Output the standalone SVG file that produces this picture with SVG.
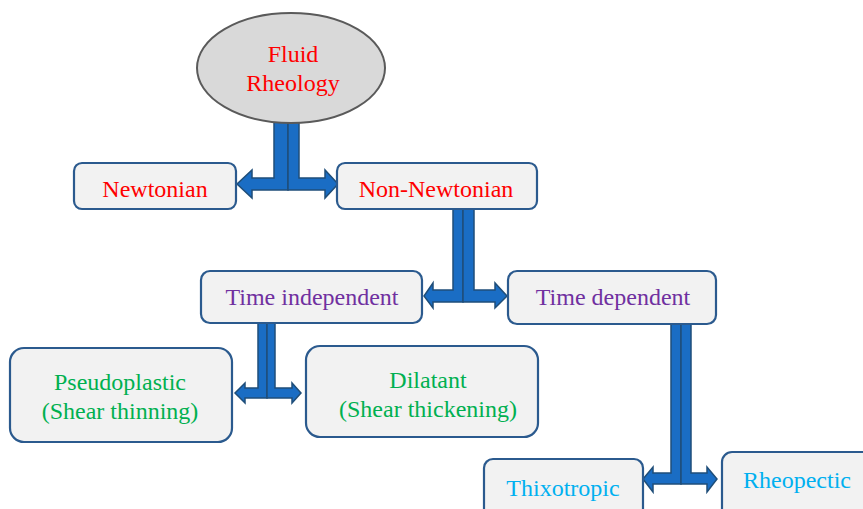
<svg xmlns="http://www.w3.org/2000/svg" width="863" height="509" viewBox="0 0 863 509">
<style>
.box{fill:#F2F2F2;stroke:#2B5A8E;stroke-width:2.2}
.arr{fill:#1A6DC4;stroke:#1F4E79;stroke-width:1.5;stroke-linejoin:miter}
.t{font-family:'Liberation Serif','DejaVu Serif',serif;font-size:24px;text-anchor:middle}
.red{fill:#FF0000}.pur{fill:#7030A0}.grn{fill:#00B050}.cyn{fill:#00B0F0}
</style>
<rect width="863" height="509" fill="#FFFFFF"/>
<g id="connectors">
<path class="arr" d="M274,122 L288,122 L288,190 L252,190 L252,198 L237,184 L252,170 L252,178 L274,178 Z"/>
<path class="arr" d="M288,122 L299,122 L299,178 L325,178 L325,170 L338,184 L325,198 L325,190 L288,190 Z"/>
<path class="arr" d="M453,209 L463,209 L463,302 L433,302 L433,308 L424,296 L433,283 L433,290 L453,290 Z"/>
<path class="arr" d="M463,209 L474,209 L474,290 L495,290 L495,283 L507,296 L495,308 L495,302 L463,302 Z"/>
<path class="arr" d="M258,323 L267,323 L267,398 L245,398 L245,403 L235,393 L245,383 L245,388 L258,388 Z"/>
<path class="arr" d="M267,323 L275,323 L275,388 L292,388 L292,383 L301,393 L292,403 L292,398 L267,398 Z"/>
<path class="arr" d="M671,324 L681,324 L681,484 L653,484 L653,492 L643,479 L653,467 L653,473 L671,473 Z"/>
<path class="arr" d="M681,324 L691,324 L691,473 L707,473 L707,467 L717,479 L707,492 L707,484 L681,484 Z"/>
</g>
<g font-family="Liberation Serif, DejaVu Serif, serif">
<g id="fluid-rheology">
<ellipse cx="291" cy="68" rx="94" ry="55" fill="#D9D9D9" stroke="#5A5A5A" stroke-width="2"/>
<text class="t red" x="293" y="62">Fluid</text>
<text class="t red" x="293" y="91">Rheology</text>
</g>
<g id="newtonian">
<rect class="box" x="74" y="163" width="162" height="46" rx="8"/>
<text class="t red" x="155" y="197">Newtonian</text>
</g>
<g id="non-newtonian">
<rect class="box" x="337" y="163" width="200" height="46" rx="8"/>
<text class="t red" x="436" y="197">Non-Newtonian</text>
</g>
<g id="time-independent">
<rect class="box" x="201" y="271" width="221" height="52" rx="9"/>
<text class="t pur" x="312" y="305">Time independent</text>
</g>
<g id="time-dependent">
<rect class="box" x="508" y="271" width="208" height="53" rx="9"/>
<text class="t pur" x="613" y="305">Time dependent</text>
</g>
<g id="pseudoplastic">
<rect class="box" x="10" y="348" width="222" height="94" rx="14"/>
<text class="t grn" x="120" y="390">Pseudoplastic</text>
<text class="t grn" x="120" y="419">(Shear thinning)</text>
</g>
<g id="dilatant">
<rect class="box" x="306" y="346" width="232" height="91" rx="14"/>
<text class="t grn" x="428" y="388">Dilatant</text>
<text class="t grn" x="428" y="417">(Shear thickening)</text>
</g>
<g id="thixotropic">
<rect class="box" x="484" y="459" width="159" height="60" rx="9"/>
<text class="t cyn" x="563" y="496">Thixotropic</text>
</g>
<g id="rheopectic">
<rect class="box" x="722" y="452" width="160" height="67" rx="10"/>
<text class="t cyn" x="797" y="488">Rheopectic</text>
</g>
</g>
</svg>
